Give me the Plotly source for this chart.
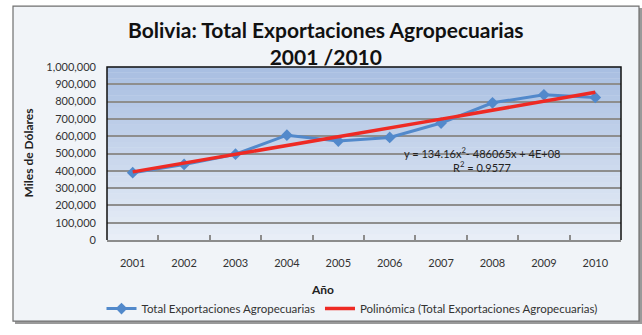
import numpy as np
import plotly.graph_objects as go

years = [2001, 2002, 2003, 2004, 2005, 2006, 2007, 2008, 2009, 2010]
exports = [389000, 437000, 496000, 606000, 572000, 593000, 676000, 793000, 839000, 824000]
y_ticks = [0, 100000, 200000, 300000, 400000, 500000, 600000, 700000, 800000, 900000, 1000000]
y_ticktext = ["0", "100,000", "200,000", "300,000", "400,000", "500,000", "600,000",
              "700,000", "800,000", "900,000", "1,000,000"]

series_name = "Total Exportaciones Agropecuarias"
trend_name = "Polinómica (Total Exportaciones Agropecuarias)"
title_text = "<b>Bolivia: Total Exportaciones Agropecuarias<br>2001 /2010</b>"
eq_text = "y = 134.16x<sup>2</sup>- 486065x + 4E+08"
r2_text = "R<sup>2</sup> = 0.9577"

# polynomial (order 2) trendline fitted from the data
xs = np.array(years, dtype=float) - 2000
coef = np.polyfit(xs, np.array(exports, dtype=float), 2)
tx = np.linspace(years[0], years[-1], 60)
ty = np.polyval(coef, tx - 2000)

W, H = 642, 335
L, R, T, B = 107, 21, 67, 89
pw, ph = W - L - R, H - T - B


def px(x):
    return (x - L) / pw


def py(y):
    return (H - B - y) / ph


FONT = "Lato"

fig = go.Figure()
fig.add_trace(go.Scatter(
    x=years, y=exports, mode="lines+markers", name=series_name,
    line=dict(color="#5289cb", width=3),
    marker=dict(symbol="diamond", size=9, color="#5289cb"),
))
fig.add_trace(go.Scatter(
    x=tx, y=ty, mode="lines", name=trend_name,
    line=dict(color="#ee2a24", width=3.5),
))

shapes = []
# chart frame
shapes.append(dict(type="rect", xref="paper", yref="paper",
                   x0=px(15), x1=px(642), y0=py(333), y1=py(6),
                   fillcolor="#9a9a9a", line=dict(width=0), layer="below"))
shapes.append(dict(type="rect", xref="paper", yref="paper",
                   x0=px(13), x1=px(639), y0=py(330), y1=py(4),
                   fillcolor="#f1f4f8", line=dict(color="#6f6f6f", width=1.2), layer="below"))
# gradient plot background
n = 30
top = np.array([0xa9, 0xbf, 0xe2])
bot = np.array([0xe8, 0xee, 0xf7])
for i in range(n):
    f = i / (n - 1)
    c = (bot * (1 - f) + top * f).astype(int)
    shapes.append(dict(type="rect", xref="x domain", yref="y domain",
                       x0=0, x1=1, y0=i / n, y1=(i + 1) / n + 0.002,
                       fillcolor="rgb(%d,%d,%d)" % tuple(c), line=dict(width=0),
                       layer="below"))
# plot area border (top/right/left)
shapes.append(dict(type="path", xref="x domain", yref="y domain",
                   path="M 0 0 L 0 1 L 1 1 L 1 0",
                   line=dict(color="#111111", width=1.5), layer="above"))

annotations = [
    dict(text=title_text, x=px(326), y=py(42), xref="paper", yref="paper",
         showarrow=False, xanchor="center", yanchor="middle",
         font=dict(family=FONT, size=21, color="#111111"), align="center"),
    dict(text="<b>Miles de Dólares</b>", x=px(28), y=0.5, xref="paper", yref="paper",
         showarrow=False, textangle=-90, xanchor="center", yanchor="middle",
         font=dict(family=FONT, size=12, color="#222222")),
    dict(text="<b>Año</b>", x=px(322), y=py(297), xref="paper", yref="paper",
         showarrow=False, xanchor="center", yanchor="middle",
         font=dict(family=FONT, size=12, color="#222222")),
    dict(text=eq_text, x=px(482), y=py(155), xref="paper", yref="paper",
         showarrow=False, xanchor="center", yanchor="middle",
         font=dict(family=FONT, size=11, color="#222222")),
    dict(text=r2_text, x=px(482), y=py(170), xref="paper", yref="paper",
         showarrow=False, xanchor="center", yanchor="middle",
         font=dict(family=FONT, size=11, color="#222222")),
]

fig.update_layout(
    width=W, height=H,
    margin=dict(l=L, r=R, t=T, b=B),
    paper_bgcolor="white",
    plot_bgcolor="rgba(0,0,0,0)",
    shapes=shapes,
    annotations=annotations,
    showlegend=True,
    legend=dict(orientation="h", x=px(352), y=py(317), xanchor="center", yanchor="middle",
                font=dict(family=FONT, size=11.5, color="#333333"),
                bgcolor="rgba(0,0,0,0)", itemwidth=30, tracegroupgap=0),
    font=dict(family=FONT),
)
fig.update_xaxes(
    range=[2000.5, 2010.5], tickvals=years, ticktext=[str(y) for y in years],
    ticks="", showgrid=False, zeroline=False,
    showline=True, linecolor="#8c8c8c", linewidth=1.5,
    ticklabelstandoff=12,
    tickfont=dict(family=FONT, size=11, color="#333333"),
    minor=dict(tickvals=[y + 0.5 for y in years[:-1]], ticks="inside", ticklen=5,
               tickcolor="#8c8c8c", tickwidth=1.5, showgrid=False),
    fixedrange=True,
)
fig.update_yaxes(
    range=[0, 1000000], tickvals=y_ticks, ticktext=y_ticktext,
    showgrid=True, gridcolor="#8e8e8e", gridwidth=1.5, zeroline=False,
    showline=False, ticks="", ticklabelstandoff=10,
    tickfont=dict(family=FONT, size=11, color="#333333"),
    fixedrange=True,
)

fig.write_html("out.html")
